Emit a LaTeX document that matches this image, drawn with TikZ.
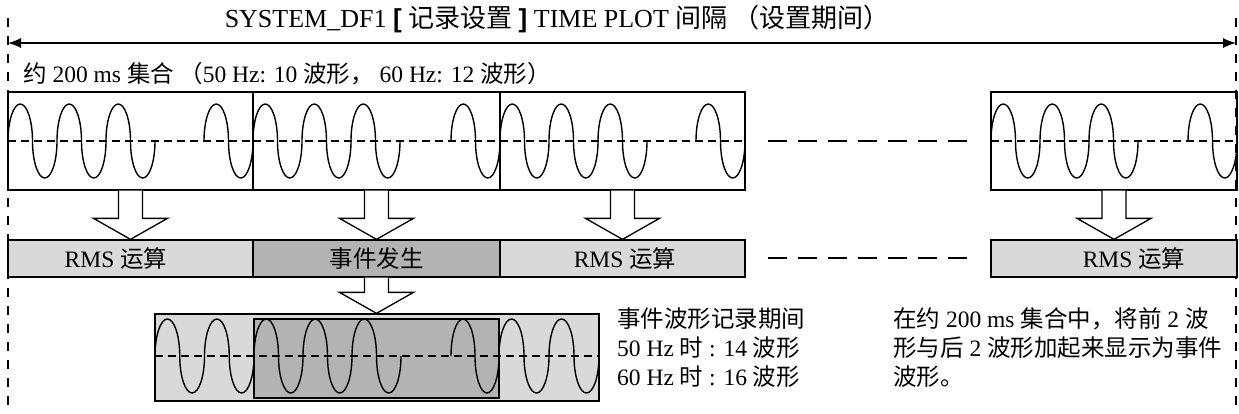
\documentclass[tikz,border=0pt]{standalone}
\usepackage{fontspec}
\setmainfont{Liberation Serif}
\newfontfamily\cjk{Noto Sans CJK SC}
\newfontfamily\brk{Liberation Sans}
\usetikzlibrary{arrows.meta,calc}
\definecolor{lgray}{HTML}{D9D9D9}
\definecolor{dgray}{HTML}{B3B3B3}
\newcommand\zh[1]{{\cjk #1}}
\newcommand\shifted[2]{\makebox[0pt]{\hspace{#1}#2}}
\newcommand\wave[4]{\pgfmathsetmacro\hr{(#2-#1)/(4*#3)}%
  \draw[wavestyle] (#1,#4) \foreach \i in {1,...,#3}{ arc[start angle=180,end angle=360,x radius=\hr,y radius=37] arc[start angle=180,end angle=0,x radius=\hr,y radius=37]};}
\newcommand\blockarr[2]{\draw[blockarrow] let \p1=(#1), \p2=(#2) in
  (\x1-12pt,\y1) -- (\x1-12pt,\y2+21pt) -- (\x1-37pt,\y2+21pt) -- (\x1,\y2) -- (\x1+37pt,\y2+21pt) -- (\x1+12pt,\y2+21pt) -- (\x1+12pt,\y1);}
\begin{document}
\begin{tikzpicture}[x=1pt,y=-1pt,
  every node/.style={font=\fontsize{23.5}{29}\selectfont},
  frame/.style={draw,line width=1.3pt,minimum height=98pt,inner sep=0pt},
  bar/.style={draw,line width=1.3pt,minimum height=37pt,inner sep=0pt},
  evbox/.style={draw,line width=1.3pt,inner sep=0pt},
  wavestyle/.style={line width=1.4pt},
  centerline/.style={line width=1.3pt,dash pattern=on 8pt off 5pt},
  gapline/.style={line width=1.3pt,dash pattern=on 19pt off 11pt},
  vline/.style={line width=1.3pt,dash pattern=on 9pt off 9pt},
  blockarrow/.style={draw,fill=white,line width=1.3pt,line join=miter},
  span/.style={line width=1.3pt,{Latex[length=13pt,width=10pt]}-{Latex[length=13pt,width=10pt]}}
]
\useasboundingbox (0,0) rectangle (1239,413);
% vertical dashed boundaries
\coordinate (L) at (8,43);
\coordinate (R) at (1236,43);
\draw[vline] (8,18) -- (8,405);
\draw[vline] (1236,18) -- (1236,405);
\draw[span] (L) -- (R);
\node[anchor=base,font=\fontsize{26}{30}\selectfont] (title) at (557,27) {SYSTEM\_DF1 {\brk\bfseries[} \zh{记录设置} {\brk\bfseries]} TIME PLOT \zh{间隔 （设置期间）}};
\node[anchor=base west,inner sep=0pt] (info) at (23,82) {\zh{约} 200 ms \zh{集合 （}50 Hz: 10 \zh{波形，} 60 Hz: 12 \zh{波形）}};
% frames
\node[frame,minimum width=245pt] (f1) at (130.5,141) {};
\node[frame,minimum width=247pt] (f2) at (376.5,141) {};
\node[frame,minimum width=245pt] (f3) at (622.5,141) {};
\node[frame,minimum width=246pt] (f4) at (1114,141) {};
% bars
\node[bar,fill=lgray,minimum width=245pt] (b1) at (130.5,258.5) {\shifted{-29pt}{RMS \zh{运算}}};
\node[bar,fill=dgray,minimum width=247pt] (b2) at (376.5,258.5) {\zh{事件发生}};
\node[bar,fill=lgray,minimum width=245pt] (b3) at (622.5,258.5) {\shifted{5pt}{RMS \zh{运算}}};
\node[bar,fill=lgray,minimum width=246pt] (b4) at (1114,258.5) {\shifted{40pt}{RMS \zh{运算}}};
% centre lines in frames
\foreach \a/\b in {8/253,253/500,500/745,991/1237}{\draw[centerline] (\a,141) -- (\b,141);}
\draw[gapline] (768,141) -- (967,141);
\draw[gapline] (768,258) -- (967,258);
% waves in frames
\wave{8}{155}{3}{141}\wave{204}{253}{1}{141}
\wave{253}{400}{3}{141}\wave{451}{500}{1}{141}
\wave{500}{647}{3}{141}\wave{696}{745}{1}{141}
\wave{991}{1138}{3}{141}\wave{1188}{1237}{1}{141}
% block arrows
\blockarr{f1.south}{b1.north}
\blockarr{f2.south}{b2.north}
\blockarr{f3.south}{b3.north}
\blockarr{f4.south}{b4.north}
% event waveform
\node[evbox,fill=lgray,minimum width=444pt,minimum height=87pt] (ev) at (377,357.5) {};
\node[evbox,fill=dgray,minimum width=245pt,minimum height=79pt] (evin) at (376.5,358.5) {};
\draw[centerline] (155,356) -- (599,356);
\wave{155}{254}{2}{356}
\wave{254}{401}{3}{356}\wave{451}{499}{1}{356}
\wave{499}{599}{2}{356}
\blockarr{b2.south}{ev.north}
% side texts
\node[anchor=base west,align=left,inner sep=0pt] (rec) at (617,385) {\zh{事件波形记录期间}\\50 Hz \zh{时} : 14 \zh{波形}\\60 Hz \zh{时} : 16 \zh{波形}};
\node[anchor=base west,align=left,inner sep=0pt] (note) at (893,385) {\zh{在约} 200 ms \zh{集合中，将前} 2 \zh{波}\\\zh{形与后} 2 \zh{波形加起来显示为事件}\\\zh{波形。}};
\end{tikzpicture}
\end{document}
